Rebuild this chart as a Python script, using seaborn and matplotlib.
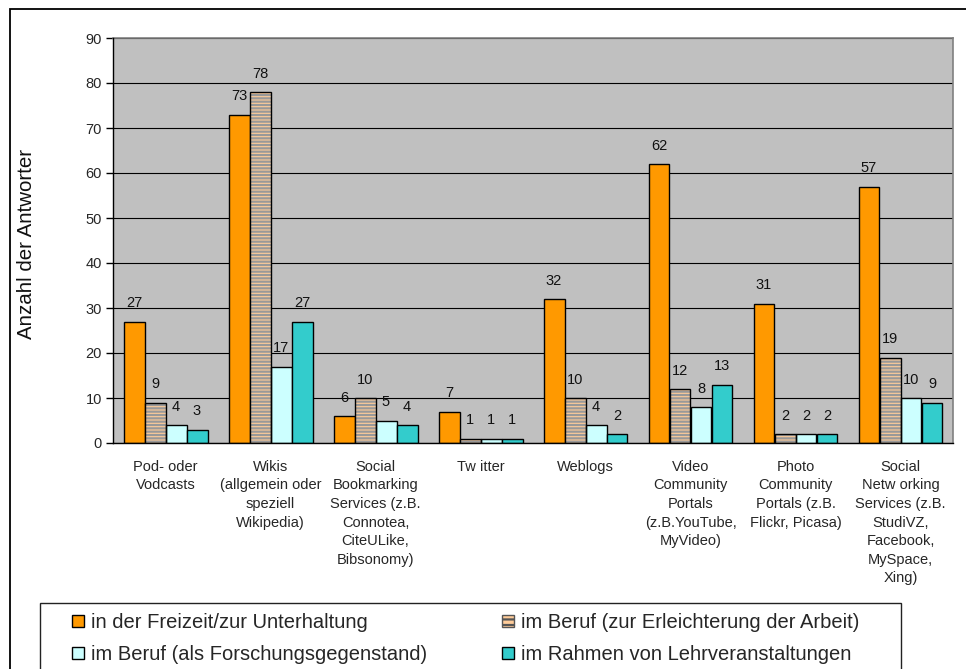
import matplotlib
matplotlib.use("Agg")
import matplotlib.pyplot as plt
import seaborn as sns
import pandas as pd
from matplotlib.patches import Rectangle, Patch

categories = [
    "Pod- oder\nVodcasts",
    "Wikis\n(allgemein oder\nspeziell\nWikipedia)",
    "Social\nBookmarking\nServices (z.B.\nConnotea,\nCiteULike,\nBibsonomy)",
    "Tw itter",
    "Weblogs",
    "Video\nCommunity\nPortals\n(z.B.YouTube,\nMyVideo)",
    "Photo\nCommunity\nPortals (z.B.\nFlickr, Picasa)",
    "Social\nNetw orking\nServices (z.B.\nStudiVZ,\nFacebook,\nMySpace,\nXing)",
]
series = [
    "in der Freizeit/zur Unterhaltung",
    "im Beruf (zur Erleichterung der Arbeit)",
    "im Beruf (als Forschungsgegenstand)",
    "im Rahmen von Lehrveranstaltungen",
]
freizeit = [27, 73, 6, 7, 32, 62, 31, 57]
beruf_arbeit = [9, 78, 10, 1, 10, 12, 2, 19]
beruf_forschung = [4, 17, 5, 1, 4, 8, 2, 10]
lehre = [3, 27, 4, 1, 2, 13, 2, 9]
yticks = [0, 10, 20, 30, 40, 50, 60, 70, 80, 90]

colors = ["#FF9900", "#FFCC99", "#CCFFFF", "#33CCCC"]
stripe_color = "#999999"

sns.set_theme(style="white")
plt.rcParams['font.family'] = ['Liberation Sans', 'DejaVu Sans']
plt.rcParams['hatch.linewidth'] = 1.6

rows = []
for s, vals in zip(series, [freizeit, beruf_arbeit, beruf_forschung, lehre]):
    for c, v in zip(categories, vals):
        rows.append({"cat": c, "series": s, "val": v})
df = pd.DataFrame(rows)

W, H = 966, 669
fig = plt.figure(figsize=(W / 100, H / 100), dpi=100)
ax = fig.add_axes([113 / W, 1 - 443 / H, (953 - 113) / W, (443 - 38) / H])
ax.set_facecolor("#C0C0C0")

sns.barplot(data=df, x="cat", y="val", hue="series", hue_order=series,
            order=categories, palette=colors, saturation=1, width=0.8,
            edgecolor="black", linewidth=1, ax=ax, legend=False, zorder=3)

# striped series
for bar in ax.containers[1]:
    bar.set_facecolor(colors[1])
    bar.set_edgecolor(stripe_color)
    bar.set_hatch("-----")
    bar.set_linewidth(0)
    outline = Rectangle(bar.get_xy(), bar.get_width(), bar.get_height(),
                        fill=False, edgecolor="black", linewidth=1, zorder=4)
    ax.add_patch(outline)

for cont in ax.containers:
    ax.bar_label(cont, padding=8, fontsize=10.5, color="#111111")

ax.set_ylim(0, 90)
ax.set_yticks(yticks)
ax.set_yticklabels([str(t) for t in yticks], fontsize=10.5)
ax.set_xlim(-0.5, len(categories) - 0.5)
ax.set_xticks(range(len(categories)))
ax.set_xticklabels(categories, fontsize=10.5, linespacing=1.42)
ax.set_xticks([i - 0.5 for i in range(len(categories) + 1)], minor=True)
ax.tick_params(axis="x", which="major", length=0, pad=12)
ax.tick_params(axis="x", which="minor", length=5, width=1, color="black", direction="out")
ax.tick_params(axis="y", length=5, width=1, color="black", direction="out", pad=3, left=True)
ax.set_xlabel("")
ax.set_ylabel("")
ax.yaxis.grid(True, color="black", linewidth=0.8, zorder=0)
ax.set_axisbelow(True)
for side in ["top", "right"]:
    ax.spines[side].set_color("#808080")
    ax.spines[side].set_linewidth(1.2)
for side in ["left", "bottom"]:
    ax.spines[side].set_color("black")
    ax.spines[side].set_linewidth(1)
    ax.spines[side].set_zorder(5)

fig.text(27 / W, 1 - 244 / H, "Anzahl der Antworter", rotation=90,
         ha="center", va="center", fontsize=14.8, color="#111111")

# outer frame
fig.add_artist(Rectangle((10 / W, -0.1), 1.0, 1 - 9 / H + 0.1,
                         transform=fig.transFigure, fill=False,
                         edgecolor="black", linewidth=1.3))
# legend box
fig.add_artist(Rectangle((40 / W, -0.1), (901 - 40) / W, 1 - 603 / H + 0.1,
                         transform=fig.transFigure, fill=False,
                         edgecolor="#222222", linewidth=1))

handles = [
    Patch(facecolor=colors[0], edgecolor="black", linewidth=1),
    Patch(facecolor=colors[1], edgecolor="#555555", hatch="---", linewidth=1),
    Patch(facecolor=colors[2], edgecolor="black", linewidth=1),
    Patch(facecolor=colors[3], edgecolor="black", linewidth=1),
]
order = [0, 2, 1, 3]
fig.legend([handles[i] for i in order], [series[i] for i in order],
           ncol=2, loc="upper left",
           bbox_to_anchor=(72 / W, 1 - 613 / H), frameon=False,
           borderpad=0, borderaxespad=0, fontsize=14.5,
           handlelength=0.6, handleheight=0.6, handletextpad=0.35,
           columnspacing=3.7, labelspacing=0.65)

fig.savefig("out.png", dpi=100)
